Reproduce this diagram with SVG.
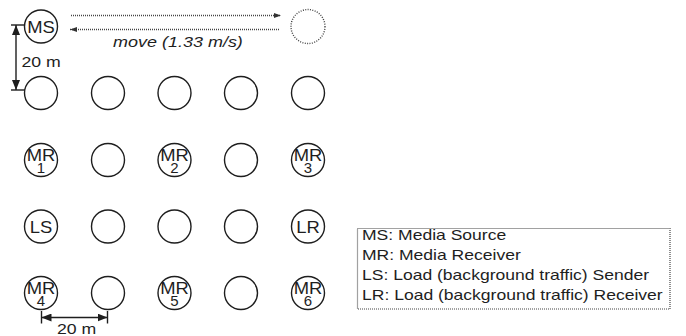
<svg xmlns="http://www.w3.org/2000/svg" width="686" height="336" viewBox="0 0 686 336">
  <style>
    .node { fill: #ffffff; stroke: #1e1e1e; stroke-width: 1.4; }
    .ghost { fill: none; stroke: #444444; stroke-width: 1.4; stroke-dasharray: 1 1.4; }
    .lbl { font-family: "Liberation Sans", Arial, sans-serif; font-size: 16px; fill: #1e1e1e; text-anchor: middle; }
    .num { font-family: "Liberation Sans", Arial, sans-serif; font-size: 15px; fill: #1e1e1e; text-anchor: middle; }
    .txt { font-family: "Liberation Sans", Arial, sans-serif; font-size: 14.5px; fill: #1e1e1e; }
    .dim { stroke: #1e1e1e; stroke-width: 1.4; fill: none; }
    .dot { stroke: #444444; stroke-width: 1.3; fill: none; stroke-dasharray: 1 1; }
  </style>
  <defs>
    <marker id="dimHead" viewBox="0 0 10 8" refX="10" refY="4" markerWidth="10" markerHeight="8" markerUnits="userSpaceOnUse" orient="auto-start-reverse">
      <path d="M0,0 L10,4 L0,8 Z" fill="#1e1e1e"/>
    </marker>
    <marker id="dotHead" viewBox="0 0 7 5" refX="7" refY="2.5" markerWidth="7" markerHeight="5" markerUnits="userSpaceOnUse" orient="auto">
      <path d="M0,0 L7,2.5 L0,5 Z" fill="#333333"/>
    </marker>
  </defs>

  <rect width="686" height="336" fill="#ffffff"/>

  <!-- mobile source and its destination position -->
  <g id="ms">
    <circle class="node" cx="41" cy="26.5" r="16.5"/>
    <text class="lbl" transform="translate(41,32.5) scale(1.15,1)">MS</text>
  </g>
  <g id="ms-end">
    <circle class="ghost" cx="308" cy="26.5" r="17"/>
  </g>

  <!-- row 2 -->
  <g id="n21"><circle class="node" cx="41" cy="93" r="16.5"/></g>
  <g id="n22"><circle class="node" cx="108" cy="93" r="16.5"/></g>
  <g id="n23"><circle class="node" cx="174.5" cy="93" r="16.5"/></g>
  <g id="n24"><circle class="node" cx="241" cy="93" r="16.5"/></g>
  <g id="n25"><circle class="node" cx="308" cy="93" r="16.5"/></g>

  <!-- row 3 -->
  <g id="mr1">
    <circle class="node" cx="41" cy="160" r="16.5"/>
    <text class="lbl" transform="translate(41,161) scale(1.15,1)">MR</text>
    <text class="num" x="41" y="172.5">1</text>
  </g>
  <g id="n32"><circle class="node" cx="108" cy="160" r="16.5"/></g>
  <g id="mr2">
    <circle class="node" cx="174.5" cy="160" r="16.5"/>
    <text class="lbl" transform="translate(174.5,161) scale(1.15,1)">MR</text>
    <text class="num" x="174.5" y="172.5">2</text>
  </g>
  <g id="n34"><circle class="node" cx="241" cy="160" r="16.5"/></g>
  <g id="mr3">
    <circle class="node" cx="308" cy="160" r="16.5"/>
    <text class="lbl" transform="translate(308,161) scale(1.15,1)">MR</text>
    <text class="num" x="308" y="172.5">3</text>
  </g>

  <!-- row 4 -->
  <g id="ls">
    <circle class="node" cx="41" cy="226.5" r="16.5"/>
    <text class="lbl" transform="translate(41,232.5) scale(1.15,1)">LS</text>
  </g>
  <g id="n42"><circle class="node" cx="108" cy="226.5" r="16.5"/></g>
  <g id="n43"><circle class="node" cx="174.5" cy="226.5" r="16.5"/></g>
  <g id="n44"><circle class="node" cx="241" cy="226.5" r="16.5"/></g>
  <g id="lr">
    <circle class="node" cx="308" cy="226.5" r="16.5"/>
    <text class="lbl" transform="translate(308,232.5) scale(1.15,1)">LR</text>
  </g>

  <!-- row 5 -->
  <g id="mr4">
    <circle class="node" cx="41" cy="293" r="16.5"/>
    <text class="lbl" transform="translate(41,294) scale(1.15,1)">MR</text>
    <text class="num" x="41" y="305.5">4</text>
  </g>
  <g id="n52"><circle class="node" cx="108" cy="293" r="16.5"/></g>
  <g id="mr5">
    <circle class="node" cx="174.5" cy="293" r="16.5"/>
    <text class="lbl" transform="translate(174.5,294) scale(1.15,1)">MR</text>
    <text class="num" x="174.5" y="305.5">5</text>
  </g>
  <g id="n54"><circle class="node" cx="241" cy="293" r="16.5"/></g>
  <g id="mr6">
    <circle class="node" cx="308" cy="293" r="16.5"/>
    <text class="lbl" transform="translate(308,294) scale(1.15,1)">MR</text>
    <text class="num" x="308" y="305.5">6</text>
  </g>

  <!-- movement path and spacing dimensions -->
  <g id="connectors">
    <line class="dot" x1="71" y1="15.5" x2="281" y2="15.5" marker-end="url(#dotHead)"/>
    <line class="dot" x1="279" y1="29.5" x2="70" y2="29.5" marker-end="url(#dotHead)"/>
    <text class="txt" font-style="italic" transform="translate(113,46.5) scale(1.24,1)">move (1.33 m/s)</text>

    <line class="dim" x1="11" y1="25" x2="25" y2="25"/>
    <line class="dim" x1="11" y1="90" x2="25" y2="90"/>
    <line class="dim" x1="16" y1="25" x2="16" y2="90" marker-start="url(#dimHead)" marker-end="url(#dimHead)"/>
    <text class="txt" transform="translate(21.5,66.5) scale(1.22,1)">20 m</text>

    <line class="dim" x1="41.5" y1="311" x2="41.5" y2="323.5"/>
    <line class="dim" x1="107.5" y1="311" x2="107.5" y2="323.5"/>
    <line class="dim" x1="41.5" y1="317.5" x2="107.5" y2="317.5" marker-start="url(#dimHead)" marker-end="url(#dimHead)"/>
    <text class="txt" transform="translate(57,334) scale(1.22,1)">20 m</text>
  </g>

  <!-- legend -->
  <g id="legend">
    <rect x="357.5" y="228.5" width="312.5" height="80.5" fill="none" stroke="#444444" stroke-width="1.2" stroke-dasharray="1 1"/>
    <text class="txt" transform="translate(362,239.5) scale(1.21,1)">MS: Media Source</text>
    <text class="txt" transform="translate(362,259.5) scale(1.21,1)">MR: Media Receiver</text>
    <text class="txt" transform="translate(362,279.5) scale(1.21,1)">LS: Load (background traffic) Sender</text>
    <text class="txt" transform="translate(362,299.5) scale(1.21,1)">LR: Load (background traffic) Receiver</text>
  </g>
</svg>
